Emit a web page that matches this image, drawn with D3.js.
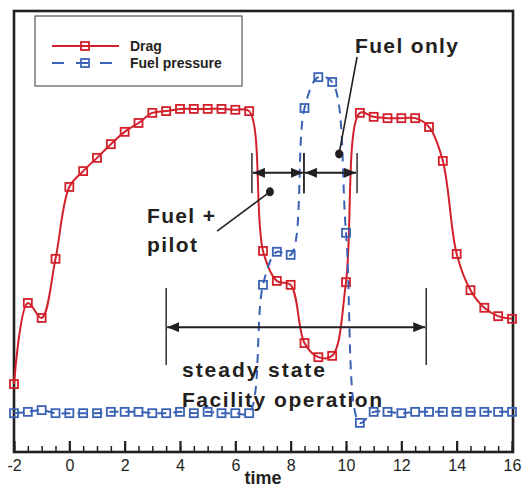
<!DOCTYPE html>
<meta charset="utf-8">
<head>
<style>
  body { margin: 0; background: #fff; }
  text { font-family: "Liberation Sans", Arial, sans-serif; fill: #231f20; }
</style>
</head>
<body>
<div id="chartId"></div>
<script src="https://d3js.org/d3.v7.min.js"></script>
<script>

// Data (sampled every 0.5 time unit)
var timeVals = d3.range(-2, 16.01, 0.5);
var dragVals = [15.4, 33.8, 30.4, 43.8, 60.1, 63.7, 66.7, 69.8, 72.6, 74.6, 76.9, 77.3,
                77.8, 77.8, 77.8, 77.8, 77.6, 77.3, 45.6, 38.8, 37.9, 24.7, 21.5, 21.8,
                38.5, 76.9, 76.0, 75.7, 75.7, 75.7, 73.7, 66.0, 44.9, 36.7, 32.7, 30.8, 30.2];
var fuelVals = [8.8, 9.1, 9.5, 8.8, 8.8, 8.8, 8.8, 9.1, 9.1, 9.1, 8.8, 8.8, 9.1, 8.8,
                9.1, 8.8, 8.8, 8.8, 37.9, 45.4, 44.7, 78.0, 85.0, 83.9, 49.7, 6.6, 9.1,
                9.1, 8.8, 9.1, 9.1, 9.1, 9.1, 9.1, 9.1, 9.1, 9.1];
var seriesNames = ["Drag", "Fuel pressure"];
var seriesColors = ["#d2202b", "#3a62b4"];
var majorTicks = [-2, 0, 2, 4, 6, 8, 10, 12, 14, 16];

// annotations, in data units
var spanBars = [3.5, 12.9];           // steady state bracket
var phaseBars = [6.6, 8.48, 10.4];    // fuel+pilot / fuel only brackets

var width = 523, height = 489;
var svg = d3.select("#chartId").append("svg")
  .attr("width", width).attr("height", height);

var x = d3.scaleLinear().domain([-2, 16]).range([14, 512]);
var y = d3.scaleLinear().domain([0, 100]).range([452, 11]);

var pts = function(vals) {
  return vals.map(function(v, i) { return [timeVals[i], v]; });
};

var line = d3.line()
  .x(function(d) { return x(d[0]); })
  .y(function(d) { return y(d[1]); })
  .curve(d3.curveCatmullRom.alpha(0.5));

// axes (ticks point inward)
svg.append("g")
  .attr("transform", "translate(0,452)")
  .call(d3.axisBottom(x).tickValues(d3.range(-2, 16.01, 0.5)).tickSize(-6).tickFormat(""))
  .call(function(g) { g.select(".domain").remove(); g.selectAll("line").attr("stroke", "#231f20").attr("stroke-width", 1.5); });

var xAxis = svg.append("g")
  .attr("transform", "translate(0,452)")
  .call(d3.axisBottom(x).tickValues(majorTicks).tickSize(-11).tickPadding(8)
    .tickFormat(function(d) { return d < 0 ? "-" + Math.abs(d) : d; }));
xAxis.select(".domain").remove();
xAxis.selectAll("line").attr("stroke", "#231f20").attr("stroke-width", 2.2);
xAxis.selectAll("text").style("font-size", "16px").attr("fill", "#231f20");

svg.append("text")
  .attr("x", 263).attr("y", 484)
  .attr("text-anchor", "middle")
  .style("font-size", "18px").style("font-weight", "bold")
  .text("time");

// frame
svg.append("rect")
  .attr("x", 14).attr("y", 11).attr("width", 499).attr("height", 441)
  .attr("fill", "none").attr("stroke", "#231f20").attr("stroke-width", 2.6);

// series
var series = [pts(dragVals), pts(fuelVals)];
series.forEach(function(data, s) {
  svg.append("path")
    .datum(data)
    .attr("fill", "none")
    .attr("stroke", seriesColors[s])
    .attr("stroke-width", 2)
    .attr("stroke-dasharray", s == 1 ? "9,7" : null)
    .attr("d", line);

  svg.selectAll(".m" + s)
    .data(data)
    .enter()
    .append("rect")
    .attr("class", "m" + s)
    .attr("x", function(d) { return x(d[0]) - 4; })
    .attr("y", function(d) { return y(d[1]) - 4; })
    .attr("width", 8).attr("height", 8)
    .attr("fill", "none")
    .attr("stroke", seriesColors[s])
    .attr("stroke-width", 1.8);
});

// legend
var legend = svg.append("g");
legend.append("rect")
  .attr("x", 35).attr("y", 16).attr("width", 207).attr("height", 70)
  .attr("fill", "#fff").attr("stroke", "#333").attr("stroke-width", 1);
seriesNames.forEach(function(name, s) {
  var ly = 46 + s * 17;
  legend.append("line")
    .attr("x1", 52).attr("x2", 119).attr("y1", ly).attr("y2", ly)
    .attr("stroke", seriesColors[s]).attr("stroke-width", 2)
    .attr("stroke-dasharray", s == 1 ? "12,12" : null);
  legend.append("rect")
    .attr("x", 81).attr("y", ly - 4).attr("width", 8).attr("height", 8)
    .attr("fill", "none").attr("stroke", seriesColors[s]).attr("stroke-width", 1.8);
  legend.append("text")
    .attr("x", 130).attr("y", ly + 5)
    .style("font-size", "14px").style("font-weight", "bold")
    .text(name);
});

// annotation helpers
svg.append("defs").append("marker")
  .attr("id", "head")
  .attr("viewBox", "0 0 12 10")
  .attr("refX", 12).attr("refY", 5)
  .attr("markerWidth", 12).attr("markerHeight", 10)
  .attr("markerUnits", "userSpaceOnUse")
  .attr("orient", "auto-start-reverse")
  .append("path").attr("d", "M0,0L12,5L0,10Z").attr("fill", "#231f20");

function bracket(x0, x1, yMid, yLo, yHi) {
  [x0, x1].forEach(function(xx) {
    svg.append("line")
      .attr("x1", x(xx)).attr("x2", x(xx)).attr("y1", y(yLo)).attr("y2", y(yHi))
      .attr("stroke", "#231f20").attr("stroke-width", 1.4);
  });
  svg.append("line")
    .attr("x1", x(x0) + 1).attr("x2", x(x1) - 1).attr("y1", y(yMid)).attr("y2", y(yMid))
    .attr("stroke", "#231f20").attr("stroke-width", 2)
    .attr("marker-start", "url(#head)").attr("marker-end", "url(#head)");
}

bracket(spanBars[0], spanBars[1], 28.3, 19.7, 37.2);
bracket(phaseBars[0], phaseBars[1], 63.3, 58.7, 67.8);
bracket(phaseBars[1], phaseBars[2], 63.3, 58.7, 67.8);

function pointer(xs, ys, xe, ye) {
  svg.append("line")
    .attr("x1", x(xs)).attr("y1", y(ys)).attr("x2", x(xe)).attr("y2", y(ye))
    .attr("stroke", "#231f20").attr("stroke-width", 1.6);
  svg.append("ellipse")
    .attr("cx", x(xe)).attr("cy", y(ye)).attr("rx", 4).attr("ry", 4.5)
    .attr("fill", "#231f20");
}
pointer(5.34, 50.1, 7.25, 59.0);
pointer(10.40, 89.6, 9.75, 67.6);

function label(txt, px, py, len) {
  svg.append("text")
    .attr("x", px).attr("y", py)
    .attr("textLength", len).attr("lengthAdjust", "spacing")
    .style("font-size", "21px").style("font-weight", "bold")
    .text(txt);
}
label("Fuel only", 355, 53, 103);
label("Fuel +", 147, 223, 68);
label("pilot", 147, 252, 50);
label("steady state", 182, 377, 143);
label("Facility operation", 182, 407, 200);

</script>
</body>
